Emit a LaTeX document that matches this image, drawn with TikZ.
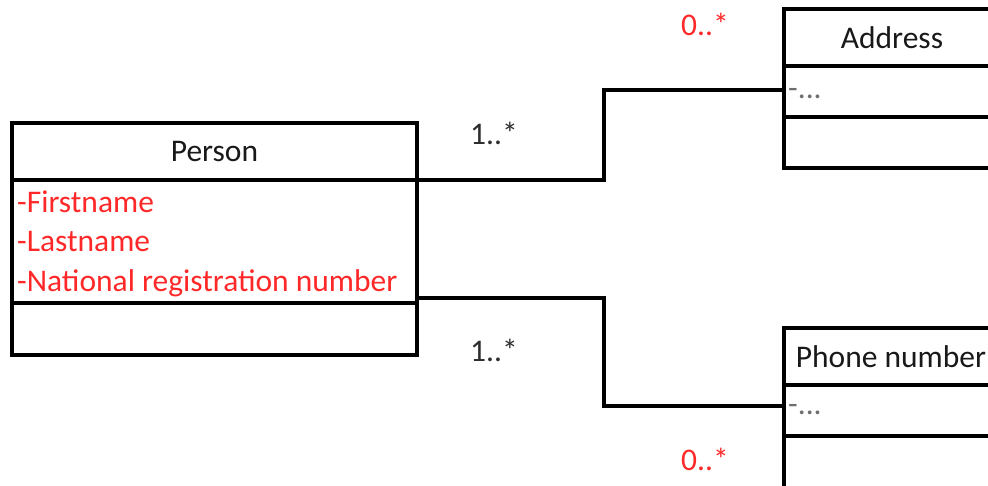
\documentclass[tikz,border=0pt]{standalone}
\usepackage{fontspec}
\setmainfont{Carlito}
\usetikzlibrary{positioning}

\definecolor{attrred}{RGB}{255,40,40}
\definecolor{multgray}{RGB}{45,45,45}
\definecolor{dotgray}{RGB}{110,110,110}

\tikzset{
  classbox/.style={draw, rectangle, line width=3.2pt, inner sep=0pt, outer sep=0pt, text=black!90},
  attr/.style={inner sep=0pt, text=attrred},
  mult/.style={inner sep=0pt, text=multgray},
  multred/.style={inner sep=0pt, text=attrred},
  assoc/.style={line width=3.2pt, line cap=rect}
}

\begin{document}
\begin{tikzpicture}[x=1pt,y=-1pt,font=\fontsize{31.5}{38}\selectfont]
\useasboundingbox (0,0) rectangle (988,485);
\clip (0,0) rectangle (988,485);

% Person class
\node[classbox, minimum width=405pt, minimum height=57pt] (person) at (214.5,151.5) {Person};
\node[classbox, minimum width=405pt, minimum height=123pt, below=0pt of person] (personattr) {};
\node[classbox, minimum width=405pt, minimum height=52pt, below=0pt of personattr] (personops) {};
\node[attr, anchor=base west] (firstname) at (17,212) {-Firstname};
\node[attr, anchor=base west] (lastname) at (17,251) {-Lastname};
\node[attr, anchor=base west] (natnumber) at (17,291) {-National registration number};

% Address class
\node[classbox, minimum width=216pt, minimum height=57pt] (address) at (892,37.5) {Address};
\node[classbox, minimum width=216pt, minimum height=51pt, below=0pt of address] (addressattr) {};
\node[classbox, minimum width=216pt, minimum height=51pt, below=0pt of addressattr] (addressops) {};
\node[inner sep=0pt, text=dotgray, anchor=base west] (addressdots) at (788,98) {-...};

% Phone number class
\node[classbox, minimum width=214pt, minimum height=57pt] (phone) at (891,356.5) {Phone number};
\node[classbox, minimum width=214pt, minimum height=51pt, below=0pt of phone] (phoneattr) {};
\node[classbox, minimum width=214pt, minimum height=60pt, below=0pt of phoneattr] (phoneops) {};
\node[inner sep=0pt, text=dotgray, anchor=base west] (phonedots) at (788,414) {-...};

% associations
\draw[assoc] (person.south east) -- ++(187,0) |- ([yshift=1.5pt]addressattr.west);
\draw[assoc] ([yshift=5pt]personattr.south east) -- ++(187,0) |- ([yshift=4.5pt]phoneattr.west);

% multiplicities
\node[mult, anchor=base west] (m1) at (470,144) {1..*};
\node[mult, anchor=base west] (m2) at (470,361) {1..*};
\node[multred, anchor=base west] (m3) at (681,35) {0..*};
\node[multred, anchor=base west] (m4) at (681,470) {0..*};
\end{tikzpicture}
\end{document}
